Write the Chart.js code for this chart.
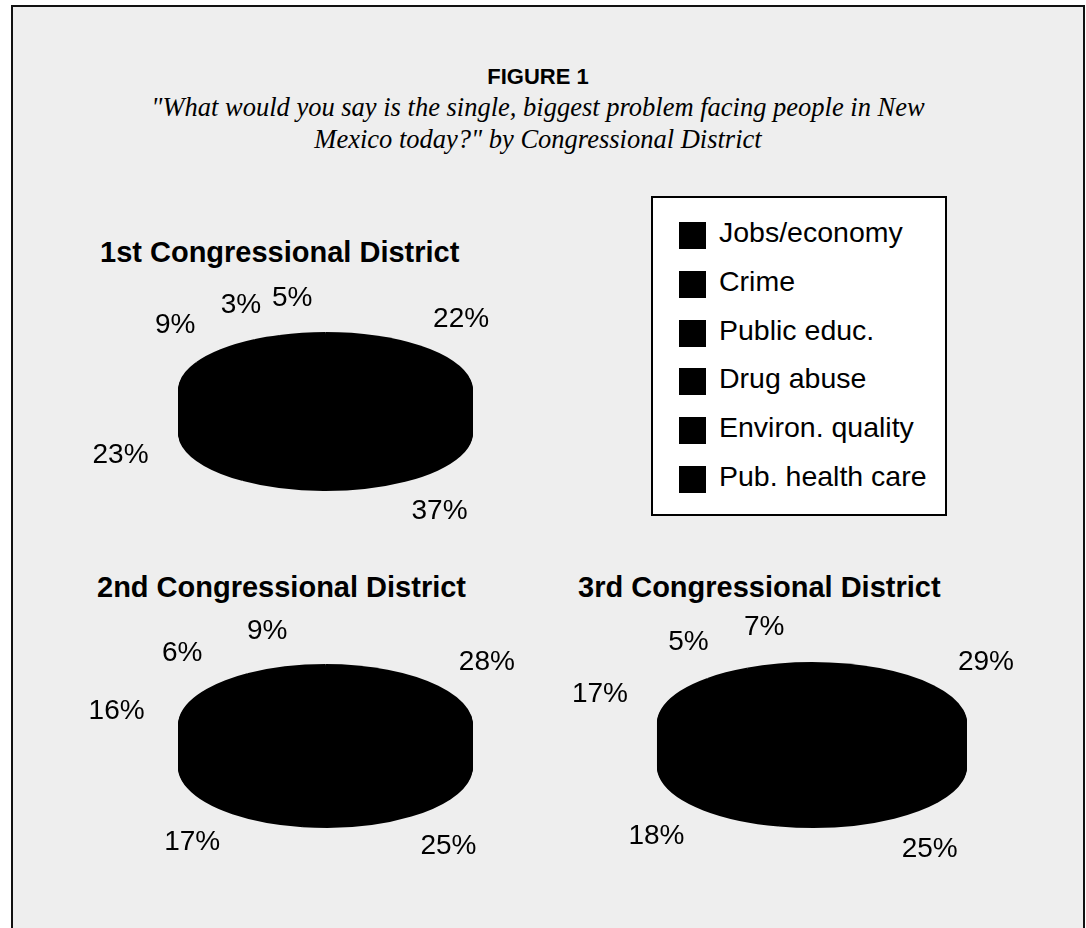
<!DOCTYPE html>
<html>
<head>
<meta charset="utf-8">
<script src="https://cdn.jsdelivr.net/npm/chart.js@4/dist/chart.umd.min.js"></script>
<style>
  body { margin: 0; background: #fff; width: 1086px; height: 928px; overflow: hidden; position: relative; }
  #frame { position: absolute; left: 11px; top: 5px; width: 1070px; height: 1000px; border: 2px solid #111; background: #eeeeee; }
  .abs { position: absolute; }
  #fig { left: 0; width: 1076px; top: 64px; text-align: center; font: bold 22px "Liberation Sans", Arial, sans-serif; line-height: 26px; }
  #sub { left: 0; width: 1076px; top: 91px; text-align: center; font: italic 26.5px "Liberation Serif", "Times New Roman", serif; line-height: 32px; }
  .dtitle { font: bold 29px "Liberation Sans", Arial, sans-serif; line-height: 32px; white-space: nowrap; }
  #legend { left: 651px; top: 196px; width: 292px; height: 316px; border: 2px solid #000; background: #fff; }
  .row { position: absolute; left: 26px; height: 27px; font: 28.5px "Liberation Sans", Arial, sans-serif; white-space: nowrap; }
  .sw { position: absolute; left: 0; top: 0; width: 27px; height: 27px; background: #000; }
  .lt { position: absolute; left: 40px; top: -6px; line-height: 32px; }
  canvas { position: absolute; }
</style>
</head>
<body>
<div id="frame"></div>
<div id="fig" class="abs">FIGURE 1</div>
<div id="sub" class="abs">"What would you say is the single, biggest problem facing people in New<br>Mexico today?" by Congressional District</div>
<div id="t1" class="abs dtitle" style="left:100px; top:236px;"></div>
<div id="t2" class="abs dtitle" style="left:97px; top:571px;"></div>
<div id="t3" class="abs dtitle" style="left:578px; top:571px;"></div>
<div id="legend" class="abs"></div>
<canvas id="c1" width="521" height="300" style="left:65px; top:240px;"></canvas>
<canvas id="c2" width="521" height="280" style="left:65px; top:585px;"></canvas>
<canvas id="c3" width="504" height="290" style="left:560px; top:578px;"></canvas>
<script>
const categories = ['Jobs/economy', 'Crime', 'Public educ.', 'Drug abuse', 'Environ. quality', 'Pub. health care'];
const districtTitles = ['1st Congressional District', '2nd Congressional District', '3rd Congressional District'];
const district1 = [22, 37, 23, 9, 3, 5];
const district2 = [28, 25, 17, 16, 6, 9];
const district3 = [29, 25, 18, 17, 5, 7];

['t1', 't2', 't3'].forEach((id, i) => { document.getElementById(id).textContent = districtTitles[i]; });

// shared legend box
const legendBox = document.getElementById('legend');
categories.forEach((name, i) => {
  const row = document.createElement('div');
  row.className = 'row';
  row.style.top = (24 + i * 48.8) + 'px';
  row.innerHTML = '<div class="sw"></div><div class="lt"></div>';
  row.querySelector('.lt').textContent = name;
  legendBox.appendChild(row);
});

// squash the pie into a tilted disk and give it some thickness
const disk = {
  id: 'disk',
  beforeDatasetsDraw(chart, args, opts) {
    const meta = chart.getDatasetMeta(0);
    const a0 = meta.data[0];
    const k = opts.ry / a0.outerRadius;
    const ctx = chart.ctx;
    ctx.save();
    ctx.translate(a0.x, a0.y);
    ctx.scale(1, k);
    ctx.translate(-a0.x, -a0.y);
    for (let d = opts.depth; d > 0; d--) {
      ctx.save();
      ctx.translate(0, d / k);
      meta.data.forEach(a => a.draw(ctx));
      ctx.restore();
    }
  },
  afterDatasetsDraw(chart, args, opts) {
    const ctx = chart.ctx;
    ctx.restore();
    const meta = chart.getDatasetMeta(0);
    const values = chart.data.datasets[0].data;
    ctx.save();
    ctx.fillStyle = '#000';
    ctx.font = '28px "Liberation Sans", Arial, sans-serif';
    ctx.textAlign = 'center';
    ctx.textBaseline = 'middle';
    meta.data.forEach((a, i) => {
      const mid = (a.startAngle + a.endAngle) / 2;
      const x = a.x + a.outerRadius * 1.43 * Math.cos(mid);
      let y = a.y + opts.ry * 1.6 * Math.sin(mid);
      if (Math.sin(mid) > 0) y += opts.depth;
      ctx.fillText(values[i] + '%', x, y);
    });
    ctx.restore();
  }
};

function makePie(id, values, rx, ry, depth) {
  new Chart(document.getElementById(id), {
    type: 'pie',
    data: {
      labels: categories,
      datasets: [{
        data: values,
        backgroundColor: categories.map(() => '#000'),
        borderWidth: 0,
        clip: false
      }]
    },
    options: {
      responsive: false,
      animation: false,
      events: [],
      radius: rx,
      plugins: {
        legend: { display: false },
        tooltip: { enabled: false },
        disk: { ry: ry, depth: depth }
      }
    },
    plugins: [disk]
  });
}

makePie('c1', district1, 147.5, 58, 43);
makePie('c2', district2, 147.5, 61, 42);
makePie('c3', district3, 155, 61, 44);
</script>
</body>
</html>
